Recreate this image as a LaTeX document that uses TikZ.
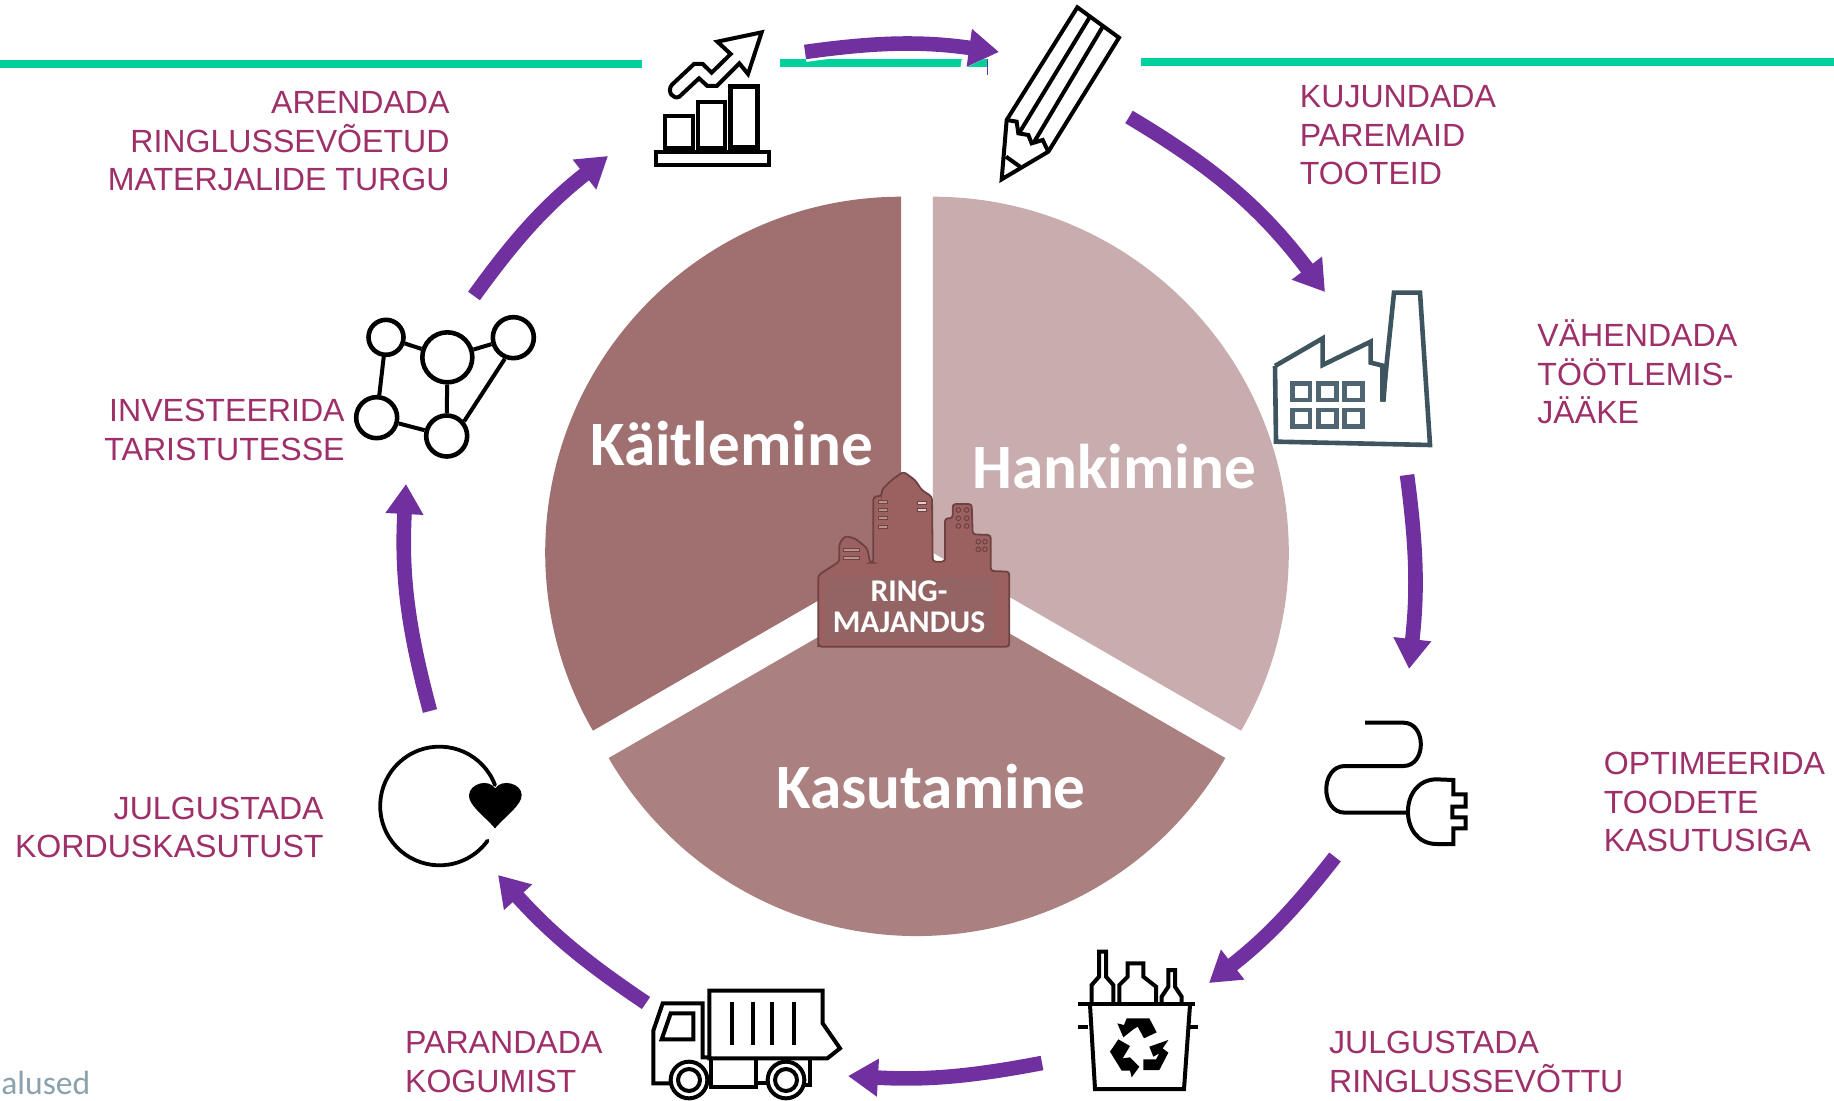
\documentclass[tikz,border=0pt]{standalone}
\usepackage{fontspec}
\setmainfont{Liberation Sans}
\newfontfamily\calib{Carlito}
\usetikzlibrary{arrows.meta}
\definecolor{pa}{HTML}{7030A0}
\definecolor{gr}{HTML}{00D09B}
\definecolor{lab}{HTML}{9E2F69}
\definecolor{kai}{HTML}{A07071}
\definecolor{han}{HTML}{C9ADAE}
\definecolor{kas}{HTML}{AB8081}
\definecolor{cty}{HTML}{9B6060}
\definecolor{ctyd}{HTML}{6F4242}
\definecolor{ctyb}{HTML}{946464}
\definecolor{fac}{HTML}{3E5560}
\definecolor{facw}{HTML}{4F6672}
\definecolor{alu}{HTML}{8AA2AE}
\tikzset{
  flowarrow/.style={draw=pa,line width=7.3pt,-{Triangle[length=15pt,width=18pt]}},
  halo/.style={draw=white,line width=10pt,-{Triangle[length=18pt,width=22pt]}},
  lbl/.style={text=lab,font=\fontsize{16.05}{19.2}\selectfont,inner sep=0pt},
  sector/.style={text=white,font=\calib\bfseries\fontsize{31.6}{36}\selectfont,inner sep=0pt},
  icon/.style={draw=black,line width=2pt,line join=miter,fill=none},
  netnode/.style={circle,draw=black,line width=2.3pt,inner sep=0pt,fill=white},
  greenbar/.style={fill=gr},
  factory/.style={draw=fac,line width=2.3pt},
  win/.style={draw=facw,line width=2.4pt},
}
\begin{document}
\begin{tikzpicture}[x=0.5pt,y=-0.5pt]
\useasboundingbox (0,0) rectangle (1834,1101);
\fill[white] (0,0) rectangle (1834,1101);
% green bars
\fill[greenbar] (0,60) rectangle (642,68);
\fill[greenbar] (780,59) rectangle (987,67);
\fill[greenbar] (1141,58) rectangle (1834,66);
\draw[pa,line width=0.5pt] (987,59) -- (987,75);
% exploded pie
\coordinate (ck) at (901.2,552.7);
\coordinate (ch) at (932.8,552.7);
\coordinate (cs) at (917,580);
\fill[han] (ch) -- ++(0,-356) arc [start angle=-90,end angle=30,radius=356] -- cycle;
\fill[kai] (ck) -- ++(0,-356) arc [start angle=-90,end angle=-210,radius=356] -- cycle;
\fill[kas] (cs) -- ++(308.3,178) arc [start angle=30,end angle=150,radius=356] -- cycle;
\node[sector,anchor=base west] (kaitle) at (590,465) {Käitlemine};
\node[sector,anchor=base west] (hanki) at (972,488) {Hankimine};
\node[sector,anchor=base west] (kasut) at (776,808) {Kasutamine};
% central emblem
\begin{scope}[shift={(780,440)},scale=1/3]
\fill[cty,draw=ctyd,line width=0.9pt,rounded corners=1.5pt]
 (115,612) -- (115,405) -- (178,365) -- (178,310) -- (195,288) -- (225,295) -- (262,325) -- (270,368) -- (280,368) -- (280,170) -- (305,168) -- (305,150) -- (335,120) -- (370,95) -- (405,120) -- (425,150) -- (456,170) -- (458,365) -- (495,365) -- (495,235) -- (518,235) -- (518,192) -- (575,192) -- (578,283) -- (632,285) -- (632,393) -- (688,395) -- (688,620) -- (115,620) -- cycle;
\fill[ctyb] (135,410) rectangle (638,605);
\foreach \y in {180,205,230,255} \draw[ctyd,line width=0.5pt,fill=cty!70!white] (295,\y) rectangle (322,\y+9);
\foreach \y in {183,206} \draw[ctyd,line width=0.5pt,fill=cty!30!white] (412,\y) rectangle (438,\y+9);
\foreach \y in {325,349} \draw[ctyd,line width=0.5pt,fill=cty!70!white] (190,\y) rectangle (238,\y+10);
\foreach \x/\y in {535/210,560/210,535/235,560/235,535/258,560/258,595/305,615/305,595/328,615/328} \draw[ctyd,line width=0.5pt] (\x,\y) circle [radius=7];
\end{scope}
\node[text=white,font=\calib\bfseries\fontsize{15.8}{15.4}\selectfont,align=center,inner sep=0pt] (ring) at (909,607) {RING-\\MAJANDUS};
% chart icon
\begin{scope}[shift={(620,0)},scale=1/3]
\draw[icon] (425,97) -- (292,125) -- (332,162) -- (275,218) -- (248,192) -- (222,192) -- (155,255) .. controls (140,275) and (160,300) .. (178,290) -- (237,235) -- (262,258) -- (290,258) -- (358,190) -- (384,222) -- cycle;
\draw[icon] (135,348) rectangle (218,443);
\draw[icon] (233,307) rectangle (315,443);
\draw[icon,line width=2.4pt] (332,260) rectangle (413,443);
\draw[icon] (108,457) rectangle (447,494);
\end{scope}
% pencil icon
\begin{scope}[shift={(620,0)},scale=1/3]
\draw[icon] (1372,22) -- (1497,113) -- (1285,455) -- (1145,538) -- (1160,360) -- cycle;
\draw[icon] (1410,50) -- (1200,395);
\draw[icon] (1447,82) -- (1240,430);
\draw[icon] (1160,360) -- (1190,365) -- (1195,400) -- (1225,405) -- (1235,430) -- (1268,420) -- (1285,455);
\draw[icon] (1158,470) -- (1200,500);
\end{scope}
% factory icon
\begin{scope}[shift={(1240,270)},scale=1/3]
\draw[factory] (105,288) -- (248,205) -- (248,285) -- (392,215) -- (392,278) -- (432,288);
\draw[factory] (428,395) -- (462,68) -- (540,68) -- (570,525) -- (108,515) -- (105,288);
\fill[fac] (420,395) -- (437,395) -- (445,290) -- (420,285) -- cycle;
\foreach \x in {157,236,314} \foreach \y in {340,420} \draw[win] (\x,\y) rectangle +(53,50);
\end{scope}
% plug icon
\begin{scope}[shift={(1290,700)},scale=1/3]
\draw[icon] (225,68) -- (340,68) .. controls (410,68) and (410,198) .. (340,198) -- (165,198) .. controls (90,198) and (90,338) .. (165,338) -- (350,338);
\draw[icon] (490,240) -- (440,238) .. controls (325,238) and (325,432) .. (440,432) -- (490,432) -- (490,385) -- (527,385) -- (527,352) -- (487,352) -- (487,320) -- (527,320) -- (527,283) -- (490,283) -- cycle;
\end{scope}
% bin icon
\begin{scope}[shift={(1060,930)},scale=1/3]
\draw[icon] (55,222) -- (405,222);
\draw[icon] (90,225) -- (105,477) -- (372,477) -- (390,225);
\draw[icon] (55,290) -- (85,290);
\draw[icon] (388,290) -- (415,290);
\draw[icon] (95,222) -- (95,165) -- (117,140) -- (117,65) -- (138,65) -- (138,140) -- (160,165) -- (160,222);
\draw[icon] (178,222) -- (178,165) -- (203,140) -- (203,100) -- (250,100) -- (250,140) -- (288,170) -- (288,222);
\draw[icon] (305,222) -- (305,200) -- (325,170) -- (325,120) -- (345,120) -- (345,170) -- (365,200) -- (365,222);
\end{scope}
\begin{scope}[shift={(1100,1000)},scale=1/3]
\fill[black] (80,55) -- (148,55) -- (170,97) -- (132,115) -- (113,80) -- (100,88) -- (70,112) -- (52,70) -- (72,75) -- cycle;
\fill[black] (30,155) -- (55,118) -- (90,138) -- (68,175) -- (90,172) -- (118,200) -- (95,232) -- (90,212) -- (65,212) -- cycle;
\fill[black] (148,140) -- (205,120) -- (188,145) -- (205,158) -- (178,210) -- (130,210) -- (130,178) -- (168,178) -- (178,160) -- (160,170) -- cycle;
\end{scope}
% truck icon
\begin{scope}[shift={(640,970)},scale=1/3]
\draw[icon] (208,62) -- (548,62) -- (548,160) -- (600,235) -- (562,265) -- (208,265) -- cycle;
\foreach \x in {275,340,397,462} \draw[icon] (\x,95) -- (\x,225);
\draw[icon] (95,340) -- (40,340) -- (40,182) -- (68,100) -- (188,100) -- (188,262) -- (208,262);
\draw[icon] (65,208) -- (92,130) -- (160,130) -- (160,208) -- cycle;
\draw[icon] (213,268) -- (213,350) -- (347,350) -- (347,268);
\draw[icon] (347,340) -- (385,340);
\draw[icon] (510,265) -- (510,345) -- (495,345);
\foreach \x in {147,438} {
 \draw[icon,fill=white] (\x,330) circle [radius=55];
 \draw[icon] (\x,330) circle [radius=33];
}
\end{scope}
% heart loop icon
\begin{scope}[shift={(350,720)},scale=1/3]
\draw[icon,line width=1.9pt,line cap=round] (435,195) arc [start angle=-20.7,end angle=-324.2,radius=178];
\fill[black] (435,325) .. controls (400,285) and (355,255) .. (357,225) .. controls (360,190) and (415,175) .. (436,205) .. controls (455,175) and (515,190) .. (515,225) .. controls (515,255) and (470,285) .. (435,325) -- cycle;
\end{scope}
% network icon
\begin{scope}[shift={(350,290)},scale=1/3]
\node[netnode,minimum size=17.5pt] (n1) at (108,142) {};
\node[netnode,minimum size=25pt] (n2) at (292,202) {};
\node[netnode,minimum size=20.5pt] (n3) at (490,143) {};
\node[netnode,minimum size=20.5pt] (n4) at (80,383) {};
\node[netnode,minimum size=20.5pt] (n5) at (290,438) {};
\draw[icon] (n1) -- (n2);
\draw[icon] (n1) -- (n4);
\draw[icon] (n2) -- (n3);
\draw[icon] (n2) -- (n5);
\draw[icon] (n4) -- (n5);
\draw[icon] (n3.248) -- (n5.40);
\end{scope}
% arrows
\coordinate (a1s) at (805,52); \coordinate (a1e) at (999,52);
\coordinate (a2s) at (1129,117); \coordinate (a2e) at (1325,292);
\coordinate (a3s) at (1407,475); \coordinate (a3e) at (1409,669);
\coordinate (a4s) at (1335,857); \coordinate (a4e) at (1209,983);
\coordinate (a5s) at (1042,1063); \coordinate (a5e) at (848,1076);
\coordinate (a6s) at (646,1003); \coordinate (a6e) at (498,875);
\coordinate (a7s) at (430,711); \coordinate (a7e) at (406,484);
\coordinate (a8s) at (474,296); \coordinate (a8e) at (608,156);
\draw[halo] (a1s) to[bend left=8] (a1e);
\draw[flowarrow] (a1s) to[bend left=8] (a1e);
\draw[flowarrow] (a2s) to[bend left=11] (a2e);
\draw[flowarrow] (a3s) to[bend left=7] (a3e);
\draw[flowarrow] (a4s) to[bend left=7] (a4e);
\draw[flowarrow] (a5s) to[bend left=7] (a5e);
\draw[flowarrow] (a6s) to[bend left=7] (a6e);
\draw[flowarrow] (a7s) to[bend left=9] (a7e);
\draw[flowarrow] (a8s) to[bend left=8] (a8e);
% labels
\node[lbl,align=right,anchor=east] (t1) at (450,141.5) {ARENDADA\\RINGLUSSEVÕETUD\\MATERJALIDE TURGU};
\node[lbl,align=left,anchor=west] (t2) at (1299.5,135.5) {KUJUNDADA\\PAREMAID\\TOOTEID};
\node[lbl,align=left,anchor=west] (t3) at (1537,372) {VÄHENDADA\\TÖÖTLEMIS-\\JÄÄKE};
\node[lbl,align=left,anchor=west] (t4) at (1603.5,802) {OPTIMEERIDA\\TOODETE\\KASUTUSIGA};
\node[lbl,align=left,anchor=west] (t5) at (1328.7,1062) {JULGUSTADA\\RINGLUSSEVÕTTU};
\node[lbl,align=left,anchor=west] (t6) at (404.7,1062) {PARANDADA\\KOGUMIST};
\node[lbl,align=right,anchor=east] (t7) at (324,827.5) {JULGUSTADA\\KORDUSKASUTUST};
\node[lbl,align=right,anchor=east] (t8) at (345,430) {INVESTEERIDA\\TARISTUTESSE};
\node[text=alu,font=\calib\fontsize{16.8}{20}\selectfont,anchor=base west,inner sep=0pt] (al) at (1,1094) {alused};
\end{tikzpicture}
\end{document}
